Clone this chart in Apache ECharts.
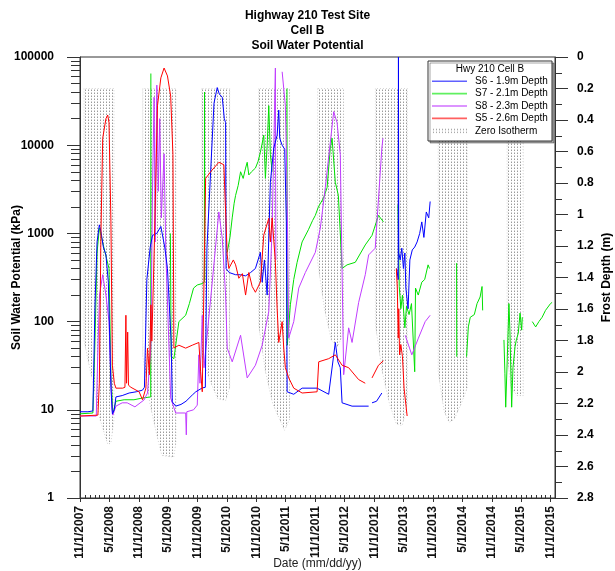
<!DOCTYPE html>
<html>
<head>
<meta charset="utf-8">
<script src="https://cdn.jsdelivr.net/npm/echarts@6.0.0/dist/echarts.min.js"></script>
<style>
html,body{margin:0;padding:0;background:#fff;}
#chart{width:615px;height:571px;}
</style>
</head>
<body>
<div id="chart"></div>
<script>
// ---------------- DATA ----------------
const titleLines = ['Highway 210 Test Site','Cell B','Soil Water Potential'];
const xTickLabels = ['11/1/2007','5/1/2008','11/1/2008','5/1/2009','11/1/2009','5/1/2010','11/1/2010','5/1/2011',
  '11/1/2011','5/1/2012','11/1/2012','5/1/2013','11/1/2013','5/1/2014','11/1/2014','5/1/2015','11/1/2015'];
const leftTickLabels = ['1','10','100','1000','10000','100000'];

// S6 - 1.9m Depth (kPa)
const s6 = [['2007-11-01',9.5],['2007-12-20',9.5],['2008-01-20',9.7],['2008-02-02',150],['2008-02-15',800],['2008-02-29',1250],
['2008-03-10',1050],['2008-03-25',700],['2008-04-10',570],['2008-04-25',280],['2008-05-11',18],['2008-05-20',9],['2008-06-01',10],
['2008-06-11',14],['2008-07-20',14.5],['2008-09-01',15.5],['2008-10-15',16],['2008-11-23',16.7],['2008-12-05',18],['2008-12-20',300],
['2009-01-10',700],['2009-01-24',950],['2009-02-20',1000],['2009-03-17',1200],['2009-04-10',700],['2009-04-27',400],['2009-05-20',60],
['2009-05-27',12.3],['2009-06-17',11],['2009-07-20',11.5],['2009-08-20',12.5],['2009-09-28',14.7],['2009-10-20',16],['2009-11-29',17.7],
['2009-12-18',18],['2009-12-28',680],['2010-01-20',5000],['2010-02-10',30000],['2010-03-02',45000],['2010-03-15',38000],['2010-04-02',35000],
['2010-04-15',20000],['2010-04-23',18000],['2010-04-26',400],['2010-05-15',360],['2010-06-24',340],['2010-07-25',340],['2010-08-25',330],
['2010-09-25',360],['2010-10-25',400],['2010-11-25',610],['2010-12-06',280],['2010-12-20',500],['2011-01-06',200],['2011-01-26',3800],
['2011-02-16',9300],['2011-03-09',13000],['2011-03-19',25000],['2011-03-25',12000],['2011-04-09',10000],['2011-04-25',9000],['2011-05-05',1350],
['2011-05-10',16],['2011-06-20',15],['2011-08-11',17.6],['2011-11-12',17.6],['2012-01-23',15],['2012-02-02',14.7],['2012-03-04',58],
['2012-03-20',35],['2012-04-04',30],['2012-04-15',12],['2012-06-16',11],['2012-09-27',11],['2012-10-05','-'],['2012-10-18',12],
['2012-11-15',12.5],['2012-12-18',15.5],['2013-01-15','-'],['2013-03-20',400],['2013-03-30',300],['2013-03-31',100000],['2013-04-02',600],
['2013-04-11',500],['2013-04-21',680],['2013-05-01',400],['2013-05-10',600],['2013-05-16',240],['2013-05-30',140],['2013-06-10',500],
['2013-06-25',650],['2013-07-10',700],['2013-07-25',800],['2013-08-10',1000],['2013-08-23',1350],['2013-09-05',900],['2013-09-20',1750],
['2013-10-05',1500],['2013-10-14',2300]];

// S7 - 2.1m Depth (kPa)
const s7 = [['2007-11-01',9],['2008-01-20',9.2],['2008-02-02',60],['2008-02-15',600],['2008-02-29',1150],['2008-03-20',800],['2008-04-29',400],
['2008-05-11',25],['2008-05-23',9],['2008-06-11',12.5],['2008-08-01',13],['2008-10-01',13],['2008-11-23',13.6],['2009-01-13',14],
['2009-01-14',65000],['2009-01-15','-'],['2009-05-15',1000],['2009-05-20',40],['2009-06-06',38],['2009-07-07',100],['2009-08-18',118],
['2009-09-10',160],['2009-10-06',240],['2009-10-29',260],['2009-11-29',270],['2009-12-12',280],['2009-12-13',40000],['2009-12-14',300],
['2009-12-20','-'],['2010-05-03',610],['2010-05-20',900],['2010-06-03',1500],['2010-06-15',2200],['2010-06-24',2700],['2010-07-10',3500],
['2010-07-25',5000],['2010-08-10',4200],['2010-08-25',5500],['2010-09-04',6400],['2010-09-14',4600],['2010-10-01',5000],['2010-10-25',5500],
['2010-11-10',6500],['2010-11-25',8300],['2010-12-16',13000],['2010-12-26',4200],['2011-01-06',10000],['2011-01-16',28000],['2011-01-26',7800],
['2011-02-06',5000],['2011-02-10','-'],['2011-05-09',44000],['2011-05-11',54],['2011-05-30',155],['2011-06-20',300],['2011-07-11',470],
['2011-08-11',800],['2011-09-19',1100],['2011-10-15',1400],['2011-11-01',1600],['2011-11-20',2000],['2011-12-21',2500],['2012-01-13',3300],
['2012-02-02',9300],['2012-02-13',12000],['2012-03-04',3800],['2012-03-23',2700],['2012-04-15',400],['2012-05-16',440],['2012-07-06',470],
['2012-09-06',740],['2012-10-18',950],['2012-11-27',1600],['2012-12-28',1350],['2013-01-10','-'],['2013-03-28',2100],['2013-04-02',600],
['2013-04-05',250],['2013-04-15',140],['2013-04-25',200],['2013-05-10',85],['2013-05-20',150],['2013-06-05',120],['2013-06-20',160],
['2013-07-10',27],['2013-07-15',240],['2013-08-01',200],['2013-08-23',280],['2013-09-10',300],['2013-10-01',440],['2013-10-10',400],
['2013-10-20','-'],['2014-03-27',460],['2014-03-28',40],['2014-04-05','-'],['2014-05-28',40],['2014-06-08',87],['2014-06-20',112],
['2014-07-15',120],['2014-08-01',160],['2014-08-20',190],['2014-09-01',250],['2014-09-05',134],['2014-10-01','-'],['2015-01-15',62],
['2015-01-21',26],['2015-01-26',10.7],['2015-02-05',40],['2015-02-15',160],['2015-02-21',80],['2015-03-04',10.7],['2015-03-12',30],
['2015-03-25',52],['2015-04-02',62],['2015-04-14',74],['2015-04-25',125],['2015-05-05',80],['2015-05-09',112],['2015-06-01','-'],
['2015-07-10',100],['2015-07-31',87],['2015-08-20',100],['2015-09-09',112],['2015-09-30',134],['2015-10-31',160],['2015-11-10',165]];

// S8 - 2.3m Depth (kPa)
const s8 = [['2007-11-01',8.5],['2008-02-10',8.5],['2008-02-19',40],['2008-03-01',200],['2008-03-21',340],['2008-04-10',200],['2008-04-29',100],
['2008-05-17',10.5],['2008-05-23',8.7],['2008-06-11',11],['2008-07-20',12],['2008-08-20',12],['2008-10-07',10.8],['2008-12-02',12.9],
['2008-12-24',15.5],['2009-01-14',50],['2009-01-24',3000],['2009-02-03',35000],['2009-02-10',800],['2009-02-20',48000],['2009-03-01',3000],
['2009-03-10',20000],['2009-03-20',1500],['2009-04-06',8000],['2009-04-17',600],['2009-04-27',570],['2009-05-17',13.6],['2009-06-17',9.2],
['2009-08-18',9.2],['2009-08-22',5.2],['2009-08-25',9.5],['2009-10-06',10],['2009-10-29',11.3],['2009-11-08',42],['2009-11-15',20],
['2009-11-29',118],['2009-12-10',30],['2010-01-30',280],['2010-03-12',1750],['2010-04-02',890],['2010-04-23',200],['2010-05-03',50],
['2010-06-03',35],['2010-07-25',70],['2010-09-04',23],['2010-10-25',32],['2010-12-06',54],['2011-01-16',130],['2011-02-06',1150],
['2011-02-26',75000],['2011-03-01',500],['2011-03-20','-'],['2011-04-09',68000],['2011-04-29',28000],['2011-05-10',3000],['2011-05-20',65],
['2011-06-20',100],['2011-07-21',240],['2011-08-31',360],['2011-11-01',610],['2011-12-02',1150],['2012-01-02',3300],['2012-02-23',24000],
['2012-03-15',18000],['2012-04-04',7800],['2012-04-25',25],['2012-05-26',85],['2012-06-16',58],['2012-07-27',165],['2012-09-06',340],
['2012-09-27',570],['2012-11-07',680],['2012-12-18',9300],['2012-12-25',12000],['2013-01-05','-'],['2013-05-12',70],['2013-06-22',42],
['2013-08-02',65],['2013-09-13',100],['2013-10-14',118]];

// S5 - 2.6m Depth (kPa)
const s5 = [['2007-11-01',8.5],['2008-02-20',8.7],['2008-02-29',20],['2008-03-10',1000],['2008-03-21',12000],['2008-04-10',20000],
['2008-04-21',22000],['2008-04-29',18000],['2008-05-11',1350],['2008-05-20',32],['2008-06-01',20],['2008-06-11',17.6],['2008-07-23',17.6],
['2008-08-06',18],['2008-08-12',118],['2008-08-16',20],['2008-08-23',76],['2008-08-28',19],['2008-09-12',18],['2008-11-02',16],
['2008-11-23',13],['2008-12-14',17.6],['2008-12-24',50],['2009-01-05',25],['2009-01-14',155],['2009-01-20',60],['2009-02-03',570],
['2009-02-24',28000],['2009-03-17',58000],['2009-04-06',75000],['2009-04-27',61000],['2009-05-17',36000],['2009-05-31',7800],['2009-06-06',50],
['2009-07-07',54],['2009-08-18',50],['2009-09-28',54],['2009-11-08',58],['2009-11-19',27],['2009-11-29',16],['2009-12-20',4200],
['2010-01-20',5000],['2010-03-12',6400],['2010-04-12',6000],['2010-05-03',570],['2010-05-13',400],['2010-06-10',500],['2010-06-24',440],
['2010-07-14',310],['2010-08-05',350],['2010-08-25',200],['2010-09-14',360],['2010-10-05',250],['2010-10-25',215],['2010-11-25',280],
['2010-12-16',960],['2011-01-16',1480],['2011-01-26',800],['2011-02-06',1500],['2011-02-26',470],['2011-03-09',140],['2011-03-19',58],
['2011-04-09',100],['2011-04-19',50],['2011-04-29',30],['2011-05-20',23],['2011-06-20',17.6],['2011-08-11',15.5],['2011-11-12',16],
['2011-11-22',35],['2012-01-23',38],['2012-03-04',42],['2012-04-15',32],['2012-05-26',30],['2012-07-27',22],['2012-09-06',20],
['2012-10-01','-'],['2012-10-18',23],['2012-11-27',32],['2012-12-28',36],['2013-01-10','-'],['2013-03-18',400],['2013-03-24',240],
['2013-03-30',65],['2013-04-02',140],['2013-04-07',42],['2013-04-15',55],['2013-04-25',40],['2013-05-05',17.6],['2013-05-24',8.5]];

// Zero isotherm: top of frozen zone (m) and bottom outline per winter [date, depth m]
const frostTop = 0.2;
const frost0708 = [['2007-11-26',1.8],['2008-01-20',2.07],['2008-03-04',2.3],['2008-04-22',2.46],['2008-05-11',2.45],['2008-05-30',2.3]];
const frost0809 = [['2008-11-25',1.9],['2009-01-08',2.2],['2009-02-20',2.4],['2009-03-23',2.53],['2009-06-05',2.54],['2009-06-18',2.45]];
const frost0910 = [['2009-11-26',1.9],['2010-01-14',2.05],['2010-03-05',2.17],['2010-04-24',2.18],['2010-05-18',2.1]];
const frost1011 = [['2010-11-14',1.7],['2010-12-27',2.0],['2011-02-09',2.2],['2011-03-24',2.3],['2011-04-24',2.37],['2011-05-25',2.3]];
const frost1112 = [['2011-11-15',1.3],['2011-12-28',1.6],['2012-02-09',1.8],['2012-03-18',1.84],['2012-04-24',1.75]];
const frost1213 = [['2012-11-08',1.7],['2012-12-21',2.0],['2013-02-03',2.2],['2013-03-18',2.33],['2013-04-24',2.34],['2013-05-25',2.2]];
const frost1314 = [['2013-12-03',2.0],['2014-01-09',2.25],['2014-02-09',2.32],['2014-03-12',2.3],['2014-04-25',2.2],['2014-06-01',2.1]];
const frost1415 = [['2015-02-04',1.9],['2015-03-01',2.1],['2015-04-07',2.15],['2015-05-14',2.15]];

// ---------------- BUILD ----------------
const FONT = '"Liberation Sans", Arial, sans-serif';
function toTs(s){ const p = s.split('-'); return new Date(+p[0], +p[1]-1, +p[2]).getTime(); }
function labTs(s){ const p = s.split('/'); return new Date(+p[2], +p[0]-1, +p[1]).getTime(); }
function prep(arr){ return arr.map(d => [toTs(d[0]), d[1]]); }

const xMin = new Date(2007,10,1).getTime();
const xMax = new Date(2015,10,28).getTime();
const xTicks = xTickLabels.map(labTs);
function xLabel(v){
  let best = '', bd = Infinity;
  xTicks.forEach((t,i)=>{ const d = Math.abs(t - v); if (d < bd){ bd = d; best = xTickLabels[i]; } });
  return bd < 86400000*3 ? best : '';
}
const monthTicks = [];
for (let y=2007, m=10; ; ) { const t = new Date(y,m,1).getTime(); if (t > xMax) break; monthTicks.push(t); m++; if (m>11){m=0;y++;} }
const logMinor = [];
for (let d=0; d<5; d++) for (let k=2; k<=9; k++) logMinor.push(d + Math.log10(k));

const frostBands = [frost0708, frost0809, frost0910, frost1011, frost1112, frost1213, frost1314, frost1415];

const pc = document.createElement('canvas'); pc.width = 3; pc.height = 3;
const pctx = pc.getContext('2d');
pctx.fillStyle = '#9a9a9a'; pctx.fillRect(1,0,1,1);
pctx.fillStyle = '#d0d0d0'; pctx.fillRect(1,2,1,1);
const dotPattern = { image: pc, repeat: 'repeat' };

function renderFrost(params, api){
  const band = frostBands[params.dataIndex];
  const pts = [api.coord([toTs(band[0][0]), frostTop])];
  band.forEach(p => pts.push(api.coord([toTs(p[0]), p[1]])));
  pts.push(api.coord([toTs(band[band.length-1][0]), frostTop]));
  return { type:'polygon', shape:{ points: pts }, style:{ fill: dotPattern, stroke:'#b8b8b8', lineWidth:0.6, lineDash:[1,2] } };
}

const lineSeries = (name, data, color, z) => ({
  type:'line', name, data: prep(data), xAxisIndex:0, yAxisIndex:0, symbol:'none', showSymbol:false,
  connectNulls:false, lineStyle:{ width:1, color }, itemStyle:{ color }, z, animation:false
});

const axisCol = '#333';
const lineIcon = 'path://M0,0h35v1.6h-35z';
const option = {
  animation:false,
  textStyle:{ fontFamily: FONT },
  title: titleLines.map((t,i) => ({ text:t, left:'center', top: 9 + i*14.6, padding:0,
    textStyle:{ fontSize:12, fontWeight:'bold', lineHeight:14, color:'#000', fontFamily: FONT } })),
  grid:{ left:80, right:60, top:57, bottom:73, outerBoundsMode:'none', containLabel:false,
    show:true, borderColor:axisCol, borderWidth:1, backgroundColor:'transparent' },
  legend:{ orient:'vertical', left:432, top:75, padding:0, itemGap:0, itemWidth:35, itemHeight:9, selectedMode:false, z:20,
    textStyle:{ fontSize:10, color:'#000', lineHeight:12.4, padding:[0,0,0,3], fontFamily: FONT },
    data:[ {name:'S6 - 1.9m Depth', icon: lineIcon, itemStyle:{color:'#6060ff'}},
      {name:'S7 - 2.1m Depth', icon: lineIcon, itemStyle:{color:'#60f060'}},
      {name:'S8 - 2.3m Depth', icon: lineIcon, itemStyle:{color:'#d070ff'}},
      {name:'S5 - 2.6m Depth', icon: lineIcon, itemStyle:{color:'#ff6060'}},
      {name:'Zero Isotherm', icon:'path://M0,0h35v5h-35z', itemStyle:{ color: dotPattern }} ] },
  graphic:[
    { type:'rect', z:10, shape:{ x:428, y:61, width:124, height:80 },
      style:{ fill:'#fff', stroke:'#333', lineWidth:1, shadowOffsetX:2, shadowOffsetY:2, shadowBlur:0, shadowColor:'rgba(0,0,0,0.35)' } },
    { type:'text', z:11, x:490, y:69, style:{ text:'Hwy 210 Cell B', font:'10px "Liberation Sans", Arial, sans-serif', textAlign:'center', textVerticalAlign:'middle', fill:'#000' } }
  ],
  xAxis:[
    { type:'value', min:xMin, max:xMax, position:'bottom', scale:true,
      axisLine:{ show:true, onZero:false, lineStyle:{ color:axisCol, width:1 } },
      axisTick:{ show:true, length:4, customValues: xTicks, lineStyle:{ color:axisCol } },
      axisLabel:{ customValues: xTicks, rotate:90, margin:8, fontSize:12, fontWeight:'bold', color:'#111', fontFamily: FONT,
        formatter: v => xLabel(v) },
      splitLine:{ show:false },
      name:'Date (mm/dd/yy)', nameLocation:'middle', nameGap:60, nameMoveOverlap:false,
      nameTextStyle:{ fontSize:12, color:'#222', fontFamily: FONT } },
    { type:'value', min:xMin, max:xMax, position:'bottom', scale:true,
      axisLine:{ show:false, onZero:false }, axisLabel:{ show:false }, splitLine:{ show:false },
      axisTick:{ show:true, inside:true, length:3, customValues: monthTicks, lineStyle:{ color:axisCol } } }
  ],
  yAxis:[
    { type:'log', logBase:10, min:1, max:100000, position:'left',
      axisLine:{ show:true, onZero:false, lineStyle:{ color:axisCol } },
      axisTick:{ show:true, length:13, lineStyle:{ color:axisCol } },
      axisLabel:{ margin:26, fontSize:12, fontWeight:'bold', color:'#000', fontFamily: FONT,
        formatter: v => leftTickLabels[Math.round(Math.log10(v))] },
      splitLine:{ show:false },
      name:'Soil Water Potential (kPa)', nameLocation:'middle', nameGap:57, nameRotate:90, nameMoveOverlap:false,
      nameTextStyle:{ fontSize:12, fontWeight:'bold', color:'#000', fontFamily: FONT } },
    { type:'value', min:0, max:2.8, interval:0.2, inverse:true, position:'right',
      axisLine:{ show:true, onZero:false, lineStyle:{ color:axisCol } },
      axisTick:{ show:true, length:13, lineStyle:{ color:axisCol } },
      minorTick:{ show:true, splitNumber:2, length:7, lineStyle:{ color:axisCol } },
      axisLabel:{ margin:22, fontSize:12, fontWeight:'bold', color:'#000', fontFamily: FONT, formatter: v => String(+(+v).toFixed(1)) },
      splitLine:{ show:false }, minorSplitLine:{ show:false },
      name:'Frost Depth (m)', nameLocation:'middle', nameGap:46, nameRotate:90, nameMoveOverlap:false,
      nameTextStyle:{ fontSize:12, fontWeight:'bold', color:'#000', fontFamily: FONT } },
    { type:'value', min:0, max:5, position:'left',
      axisLine:{ show:false, onZero:false }, axisLabel:{ show:false }, splitLine:{ show:false },
      axisTick:{ show:true, length:9, customValues: logMinor, lineStyle:{ color:axisCol } } }
  ],
  series:[
    { type:'custom', name:'Zero Isotherm', xAxisIndex:0, yAxisIndex:1, renderItem: renderFrost, silent:true, z:1,
      itemStyle:{ color: dotPattern },
      data: frostBands.map((b,i) => [toTs(b[0][0]), frostTop, i]), encode:{ x:0, y:1 } },
    lineSeries('S7 - 2.1m Depth', s7, '#00e000', 2),
    lineSeries('S8 - 2.3m Depth', s8, '#c03cff', 3),
    lineSeries('S6 - 1.9m Depth', s6, '#0000ff', 4),
    lineSeries('S5 - 2.6m Depth', s5, '#ff0000', 5)
  ]
};

const chart = echarts.init(document.getElementById('chart'), null, { renderer:'canvas' });
chart.setOption(option);
</script>
</body>
</html>
